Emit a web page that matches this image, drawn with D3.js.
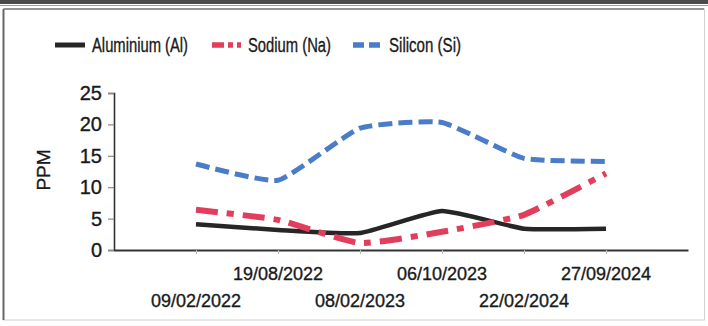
<!DOCTYPE html>
<html>
<head>
<meta charset="utf-8">
<script src="https://cdn.jsdelivr.net/npm/d3@7"></script>
<style>
  html, body { margin: 0; padding: 0; background: #fff; }
  svg { display: block; font-family: "Liberation Sans", Arial, sans-serif; }
  text { stroke: #1a1a1a; stroke-width: 0.35px; }
</style>
</head>
<body>
<svg id="chart" width="708" height="326"></svg>
<script>
const categories = ["09/02/2022", "19/08/2022", "08/02/2023", "06/10/2023", "22/02/2024", "27/09/2024"];
const aluminium = [4.1, 3.2, 2.7, 6.2, 3.4, 3.4];
const sodium    = [6.4, 4.8, 1.1, 2.9, 5.6, 12.2];
const silicon   = [13.7, 11.1, 19.4, 20.3, 14.6, 14.1];
const yTicks = [0, 5, 10, 15, 20, 25];
const seriesNames = ["Aluminium (Al)", "Sodium (Na)", "Silicon (Si)"];
const yLabel = "PPM";

const svg = d3.select("#chart");
const W = 708, H = 326;

// frame
svg.append("rect").attr("x", 0).attr("y", 0).attr("width", W).attr("height", 4).attr("fill", "#4a4a4a");
svg.append("line").attr("x1", 0).attr("x2", W).attr("y1", 5.5).attr("y2", 5.5).attr("stroke", "#999").attr("stroke-width", 1);
svg.append("rect").attr("x", 3.5).attr("y", 9).attr("width", 701).attr("height", 311)
  .attr("fill", "none").attr("stroke", "#d0d0d0").attr("stroke-width", 1);
svg.append("line").attr("x1", 3.5).attr("x2", 3.5).attr("y1", 9).attr("y2", 320).attr("stroke", "#666").attr("stroke-width", 2);
svg.append("line").attr("x1", 3.5).attr("x2", 704).attr("y1", 9).attr("y2", 9).attr("stroke", "#777").attr("stroke-width", 1.5);

const x = d3.scalePoint().domain(categories).range([114, 688]).padding(1);
const y = d3.scaleLinear().domain([0, 25]).range([250, 93]);

// y axis
const yAxis = svg.append("g").attr("transform", "translate(114,0)")
  .call(d3.axisLeft(y).tickValues(yTicks).tickSize(6).tickPadding(6));
yAxis.select(".domain").attr("stroke", "#333").attr("stroke-width", 1.6);
yAxis.selectAll(".tick line").attr("stroke", "#888").attr("stroke-width", 1.2);
yAxis.selectAll(".tick text").attr("font-size", 20).attr("fill", "#1a1a1a")
  .attr("font-family", "'Liberation Sans', Arial, sans-serif");

// x axis
const xAxis = svg.append("g").attr("transform", "translate(0,250)")
  .call(d3.axisBottom(x).tickSize(4).tickSizeOuter(0).tickFormat(""));
xAxis.select(".domain").attr("stroke", "#333").attr("stroke-width", 2.2);
xAxis.selectAll(".tick line").attr("stroke", "#bbb").attr("stroke-width", 1);

svg.append("g").selectAll("text").data(categories).join("text")
  .attr("x", d => x(d))
  .attr("y", (d, i) => i % 2 === 1 ? 280 : 306.5)
  .attr("text-anchor", "middle")
  .attr("font-size", 18)
  .attr("fill", "#1a1a1a")
  .text(d => d);

// y label
svg.append("text")
  .attr("transform", "translate(50,170) rotate(-90)")
  .attr("text-anchor", "middle")
  .attr("font-size", 19)
  .attr("fill", "#1a1a1a")
  .text(yLabel);

const styles = [
  { data: aluminium, color: "#262626", width: 4.5, dash: null },
  { data: sodium, color: "#e23d5d", width: 6, dash: "22,9,7,9" },
  { data: silicon, color: "#4a7cc8", width: 5, dash: "14,6" }
];

const line = d3.line()
  .x((d, i) => x(categories[i]))
  .y(d => y(d))
  .curve(d3.curveCardinal.tension(0.55));

styles.forEach(s => {
  svg.append("path")
    .datum(s.data)
    .attr("d", line)
    .attr("fill", "none")
    .attr("stroke", s.color)
    .attr("stroke-width", s.width)
    .attr("stroke-dasharray", s.dash);
});

// legend
const legendPos = [
  { x1: 55, x2: 85, tx: 92, tw: 96 },
  { x1: 212, x2: 241, tx: 248, tw: 83 },
  { x1: 353, x2: 380, tx: 389, tw: 72 }
];
const legendDash = [null, "12,4,5,4", "11,5"];
const lg = svg.append("g");
seriesNames.forEach((name, i) => {
  const p = legendPos[i], s = styles[i];
  lg.append("line")
    .attr("x1", p.x1).attr("x2", p.x2).attr("y1", 45).attr("y2", 45)
    .attr("stroke", s.color).attr("stroke-width", i === 0 ? 5 : 5.5)
    .attr("stroke-dasharray", legendDash[i]);
  lg.append("text")
    .attr("x", p.tx).attr("y", 52)
    .attr("font-size", 20)
    .attr("fill", "#1a1a1a")
    .attr("textLength", p.tw)
    .attr("lengthAdjust", "spacingAndGlyphs")
    .text(name);
});
</script>
</body>
</html>
